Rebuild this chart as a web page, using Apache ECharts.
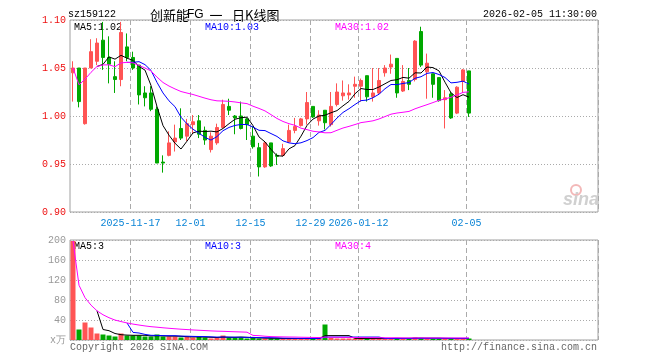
<!DOCTYPE html>
<html><head><meta charset="utf-8">
<script src="https://cdn.jsdelivr.net/npm/echarts@6/dist/echarts.min.js"></script>
<style>html,body{margin:0;padding:0;background:#fff}#c{width:660px;height:360px}</style>
</head><body><div id="c"></div>
<script>
const dates = [
 '2025-11-03','2025-11-04','2025-11-05','2025-11-06','2025-11-07','2025-11-10','2025-11-11','2025-11-12','2025-11-13','2025-11-14',
 '2025-11-17','2025-11-18','2025-11-19','2025-11-20','2025-11-21','2025-11-24','2025-11-25','2025-11-26','2025-11-27','2025-11-28',
 '2025-12-01','2025-12-02','2025-12-03','2025-12-04','2025-12-05','2025-12-08','2025-12-09','2025-12-10','2025-12-11','2025-12-12',
 '2025-12-15','2025-12-16','2025-12-17','2025-12-18','2025-12-19','2025-12-22','2025-12-23','2025-12-24','2025-12-25','2025-12-26',
 '2025-12-29','2025-12-30','2025-12-31','2026-01-05','2026-01-06','2026-01-07','2026-01-08','2026-01-09',
 '2026-01-12','2026-01-13','2026-01-14','2026-01-15','2026-01-16','2026-01-19','2026-01-20','2026-01-21','2026-01-22','2026-01-23',
 '2026-01-26','2026-01-27','2026-01-28','2026-01-29','2026-01-30','2026-02-02','2026-02-03','2026-02-04','2026-02-05'];
const openP = [1.045,1.050,0.992,1.050,1.057,1.079,1.061,1.041,1.038,1.072,
 1.061,1.053,1.024,1.024,1.007,0.952,0.959,0.973,0.987,0.979,
 0.991,0.995,0.985,0.965,0.972,0.988,1.010,1.000,1.000,0.997,
 0.979,0.967,0.947,0.972,0.959,0.959,0.973,0.985,0.990,0.997,
 1.010,0.995,1.006,0.991,1.012,1.021,1.022,1.031,1.031,1.042,
 1.020,1.024,1.045,1.051,1.060,1.026,1.037,1.038,1.088,1.046,
 1.044,1.040,1.017,1.023,1.003,1.036,1.047];
const closeP = [1.050,1.015,1.050,1.067,1.076,1.061,1.054,1.038,1.087,1.061,
 1.050,1.022,1.019,1.007,0.951,0.951,0.972,0.977,0.977,0.992,
 0.994,0.981,0.975,0.979,0.988,1.012,1.006,0.998,0.987,0.991,
 0.968,0.947,0.972,0.948,0.958,0.966,0.985,0.989,0.997,1.014,
 0.999,1.001,0.993,1.010,1.025,1.024,1.024,1.033,1.037,1.020,
 1.024,1.037,1.050,1.054,1.024,1.036,1.033,1.078,1.053,1.055,
 1.033,1.016,1.019,0.998,1.030,1.048,1.003];
const lowP = [1.015,1.009,0.991,1.050,1.053,1.048,1.034,1.024,1.031,1.057,
 1.048,1.012,1.010,1.005,0.951,0.941,0.958,0.963,0.975,0.974,
 0.982,0.977,0.970,0.962,0.970,0.987,1.001,0.981,0.986,0.975,
 0.966,0.937,0.946,0.947,0.949,0.958,0.972,0.982,0.989,0.991,
 0.998,0.990,0.986,0.989,1.010,1.016,1.017,1.019,1.015,1.015,
 1.015,1.023,1.041,1.044,1.019,1.025,1.027,1.036,1.051,1.018,
 1.019,1.015,0.987,0.997,1.002,1.024,0.999];
const highP = [1.057,1.050,1.050,1.080,1.081,1.098,1.083,1.057,1.098,1.086,
 1.067,1.053,1.031,1.031,1.010,0.959,0.984,0.991,1.008,0.997,
 1.001,1.001,0.989,0.983,0.992,1.017,1.018,1.001,1.015,0.998,
 0.989,0.972,0.973,0.972,0.961,0.971,0.991,0.998,0.998,1.025,
 1.010,1.006,1.006,1.025,1.034,1.037,1.033,1.041,1.039,1.042,
 1.050,1.050,1.053,1.064,1.060,1.053,1.050,1.079,1.093,1.065,
 1.044,1.040,1.027,1.025,1.031,1.049,1.047];
const volume = [198,21,35,25,13,11,9,7,13,9,
 9,9,7,7,11,7,7,7,5,7,
 5,7,5,3,5,9,5,5,5,3,
 5,3,3,3,3,3,3,3,3,3,
 3,3,31,4,3,3,3,3,3,3,
 3,3,3,3,4,3,3,5,4,3,
 3,3,3,3,3,3,3];
const tickDates = ['2025-11-17','2025-12-01','2025-12-15','2025-12-29','2026-01-12','2026-02-05'];
const tickLabels = ['2025-11-17','12-01','12-15','12-29','2026-01-12','02-05'];
const priceLegend = ['MA5:1.02','MA10:1.03','MA30:1.02'];
const volLegend = ['MA5:3','MA10:3','MA30:4'];
const totalSlots = 88;

// build
const cats = dates.slice();
while (cats.length < totalSlots) cats.push('');
const candle = dates.map((d,i)=>[openP[i],closeP[i],lowP[i],highP[i]]);
const RED='#ff5454', GREEN='#00a800';
const volData = volume.map((v,i)=>({value:v,itemStyle:{color: closeP[i]>=openP[i]?RED:GREEN}}));
function ma(vals,n,fromStart){
  return vals.map((v,i)=>{
    if(i<n-1 && !fromStart) return '-';
    const s=Math.max(0,i-n+1); let sum=0;
    for(let j=s;j<=i;j++) sum+=vals[j];
    return +(sum/(i-s+1)).toFixed(4);
  });
}
const tickIdx = tickDates.map(d=>dates.indexOf(d));
const FONT='Liberation Mono';
const showTick = (i)=>tickIdx.indexOf(i)>=0;
function xAx(gi, withLabels){
  return {type:'category',gridIndex:gi,data:cats,boundaryGap:true,
    axisLine:{show:false},axisTick:{show:false},
    axisLabel:{show:withLabels,interval:(i)=>showTick(i),
      formatter:(v)=>{const k=tickDates.indexOf(v);return k>=0?tickLabels[k]:'';},
      color:'#0a84d6',fontFamily:FONT,fontSize:10,margin:6,padding:[0,5,0,0]},
    splitLine:{show:true,interval:(i)=>showTick(i),lineStyle:{color:'#aaa',type:[5,3],width:1}}};
}
const lineS=(name,data,color,xi,yi)=>({name,type:'line',data,xAxisIndex:xi,yAxisIndex:yi,showSymbol:false,symbol:'none',
  lineStyle:{color,width:1},silent:true,animation:false});
const chart = echarts.init(document.getElementById('c'));
const txt=(x,y,text,fill,align,font)=>({type:'text',x,y,silent:true,style:{text,fill,align:align||'left',verticalAlign:'middle',font:font||('10px '+FONT)}});
const CJK='13px "Noto Sans CJK SC"';
chart.setOption({
  animation:false,
  backgroundColor:'#fff',
  grid:[{left:70,top:20,width:528,height:192,show:true,borderColor:'#a0a0a0',borderWidth:1,backgroundColor:'transparent'},
        {left:70,top:240,width:528,height:100,show:true,borderColor:'#a0a0a0',borderWidth:1,backgroundColor:'transparent'}],
  xAxis:[xAx(0,true),xAx(1,false)],
  yAxis:[{type:'value',gridIndex:0,min:0.90,max:1.10,interval:0.05,scale:true,
      axisLine:{show:false},axisTick:{show:false},
      axisLabel:{color:'#ee1111',fontFamily:FONT,fontSize:10,margin:4,formatter:(v)=>v.toFixed(2)},
      splitLine:{show:true,lineStyle:{color:'#aaa',type:[1,2]}}},
    {type:'value',gridIndex:1,min:0,max:200,interval:40,
      axisLine:{show:false},axisTick:{show:false},
      axisLabel:{color:'#999',fontFamily:FONT,fontSize:10,margin:4,formatter:(v)=>v===0?'x万':String(v)},
      splitLine:{show:true,lineStyle:{color:'#aaa',type:[1,2]}}}],
  series:[
    {type:'candlestick',xAxisIndex:0,yAxisIndex:0,data:candle,barWidth:4,
      itemStyle:{color:RED,color0:GREEN,borderColor:RED,borderColor0:GREEN,borderWidth:1}},
    lineS('MA5',ma(closeP,5,false),'#000',0,0),
    lineS('MA10',ma(closeP,10,false),'#0000ff',0,0),
    lineS('MA30',ma(closeP,30,true),'#ff00ff',0,0),
    {type:'bar',xAxisIndex:1,yAxisIndex:1,data:volData,barWidth:5},
    lineS('VMA5',ma(volume,5,false),'#000',1,1),
    lineS('VMA10',ma(volume,10,false),'#0000ff',1,1),
    lineS('VMA30',ma(volume,30,true),'#ff00ff',1,1)
  ],
  graphic:[
    txt(68,14,'sz159122','#000'),
    txt(150,15,'创新能','#000','left',CJK),
    txt(187,15,'FG','#000','left','12px "Liberation Sans"'),
    txt(216,15,'一','#000','center',CJK),
    txt(232,15,'日K线图','#000','left',CJK),
    txt(597,14,'2026-02-05 11:30:00','#000','right'),
    txt(74,27,priceLegend[0],'#000'),
    txt(205,27,priceLegend[1],'#0000ff'),
    txt(335,27,priceLegend[2],'#ff00ff'),
    txt(74,246,volLegend[0],'#000'),
    txt(205,246,volLegend[1],'#0000ff'),
    txt(335,246,volLegend[2],'#ff00ff'),
    txt(70,347,'Copyright 2026 SINA.COM','#666'),
    txt(597,347,'http://finance.sina.com.cn','#666','right'),
    {type:'circle',shape:{cx:576,cy:190,r:5},silent:true,style:{fill:'none',stroke:'#f3b8b8',lineWidth:2}},
    txt(581,200,'sina','#d0d0d0','center','italic bold 18px "Liberation Sans"')
  ]
});
</script></body></html>
